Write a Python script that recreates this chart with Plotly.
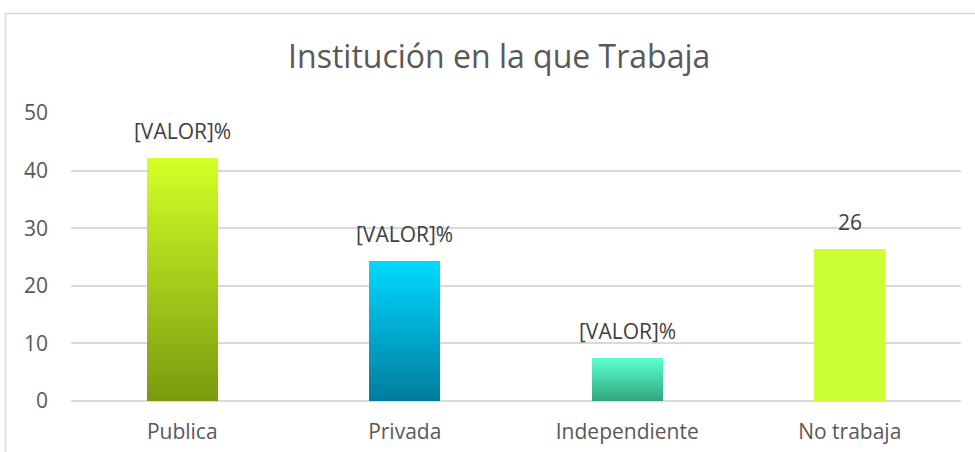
import plotly.graph_objects as go

categorias = ["Publica", "Privada", "Independiente", "No trabaja"]
valores = [42.2, 24.3, 7.4, 26.4]
etiquetas = ["[VALOR]%", "[VALOR]%", "[VALOR]%", "26"]

# gradient ends (bottom, top) for each bar
color_abajo = ["#7a9a0e", "#007c9c", "#33a680", "#ccff33"]
color_arriba = ["#d4ff26", "#00d9ff", "#58ffcc", "#ccff33"]


def hex_rgb(h):
    h = h.lstrip("#")
    return [int(h[i:i + 2], 16) for i in (0, 2, 4)]


def mezcla(a, b, t):
    ra, rb = hex_rgb(a), hex_rgb(b)
    return "rgb(%d,%d,%d)" % tuple(round(ra[i] + (rb[i] - ra[i]) * t) for i in range(3))


N = 40
fig = go.Figure()
for k in range(N):
    t = (k + 0.5) / N
    fig.add_trace(go.Bar(
        x=categorias,
        y=[v / N for v in valores],
        marker=dict(color=[mezcla(color_abajo[i], color_arriba[i], t) for i in range(len(valores))],
                    line=dict(width=0)),
        width=0.32,
        hoverinfo="skip",
        showlegend=False,
    ))

for c, v, e in zip(categorias, valores, etiquetas):
    fig.add_annotation(x=c, y=v, text=e, showarrow=False, yanchor="middle", yshift=27,
                       font=dict(size=21, color="#404040"))

# outer chart frame
fig.add_shape(type="rect", xref="paper", yref="paper",
              x0=(5.5 - 71) / 890, x1=1.2, y0=-0.5, y1=(401 - 13.5) / 288,
              line=dict(color="#d9d9d9", width=1.5), fillcolor="rgba(0,0,0,0)", layer="below")

fig.update_layout(
    width=975, height=452,
    barmode="stack", bargap=0,
    margin=dict(l=71, r=14, t=113, b=51),
    paper_bgcolor="white", plot_bgcolor="white",
    font=dict(family="Open Sans", color="#595959"),
    title=dict(text="Institución en la que Trabaja", x=0.512, xanchor="center",
               y=0.874, yanchor="middle",
               font=dict(size=32, color="#595959", family="Open Sans")),
    xaxis=dict(showgrid=False, showline=False, ticks="", tickfont=dict(size=21, color="#595959"),
               ticklabelstandoff=16, automargin=False),
    yaxis=dict(range=[0, 50], dtick=10, showgrid=True, gridcolor="#d9d9d9", gridwidth=1.5,
               zeroline=True, zerolinecolor="#d9d9d9", zerolinewidth=1.5,
               tickfont=dict(size=21, color="#595959"), ticklabelstandoff=22, automargin=False),
)

fig.write_html("out.html", config={"displayModeBar": False},
               post_script="document.body.style.margin='0';")
